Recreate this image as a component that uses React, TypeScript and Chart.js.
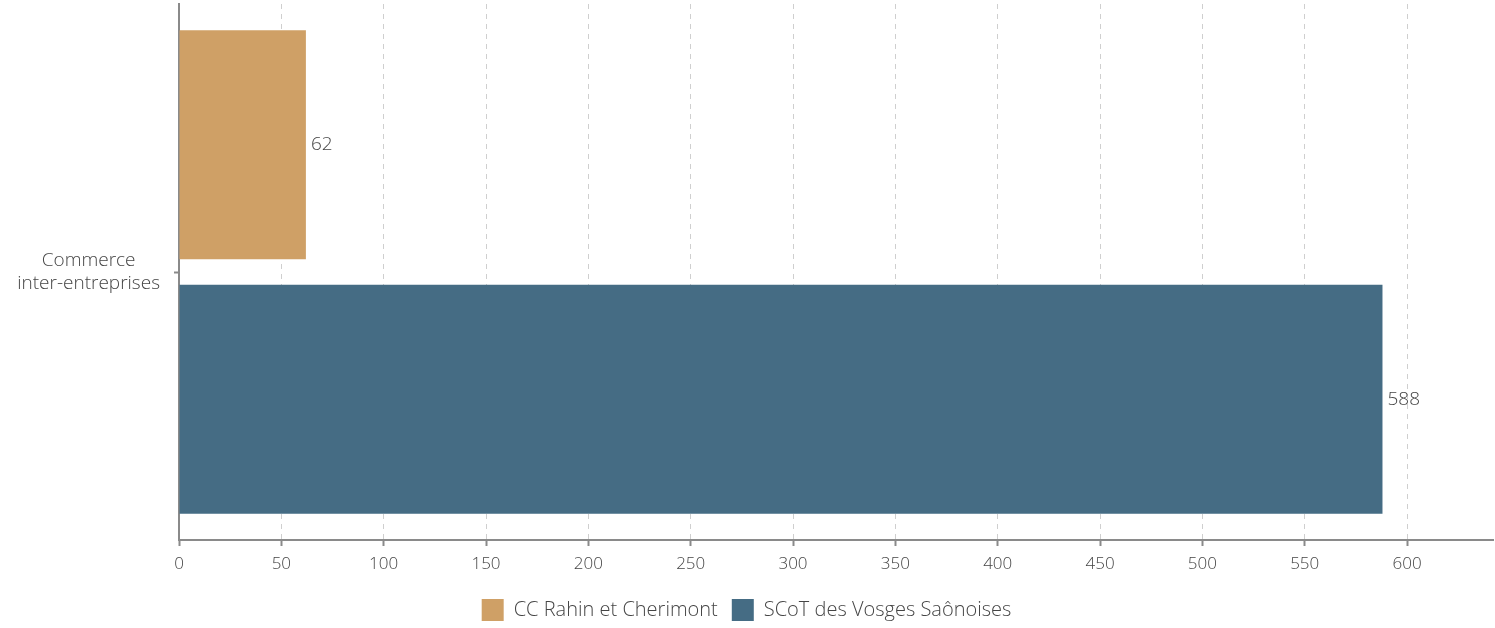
import React, { useEffect, useRef } from 'react';
import { Chart, registerables } from 'chart.js';

Chart.register(...registerables);

const categories = [['Commerce', 'inter-entreprises']];
const seriesNames = ['CC Rahin et Cherimont', 'SCoT des Vosges Saônoises'];
const ccRahinValues = [62];
const scotValues = [588];
const xMin = 0;
const xMax = 642;
const xStep = 50;

const FONT = "'Open Sans', sans-serif";
const TEXT = '#454545';
const AXIS = '#8a8a8a';
const COLORS = ['#CFA066', '#456C84'];

const valueLabels = {
  id: 'valueLabels',
  afterDatasetsDraw(chart: any) {
    const ctx = chart.ctx;
    ctx.save();
    ctx.font = `300 19px ${FONT}`;
    ctx.fillStyle = TEXT;
    ctx.textAlign = 'left';
    ctx.textBaseline = 'middle';
    chart.data.datasets.forEach((ds: any, i: number) => {
      const meta = chart.getDatasetMeta(i);
      meta.data.forEach((el: any, j: number) => {
        ctx.fillText(String(ds.data[j]), el.x + 5, el.y);
      });
    });
    ctx.restore();
  },
};

export default function App() {
  const ref = useRef<HTMLCanvasElement>(null);
  useEffect(() => {
    if (!ref.current) return;
    const chart = new Chart(ref.current, {
      type: 'bar',
      data: {
        labels: categories,
        datasets: [
          { label: seriesNames[0], data: ccRahinValues, backgroundColor: COLORS[0], borderWidth: 0 },
          { label: seriesNames[1], data: scotValues, backgroundColor: COLORS[1], borderWidth: 0 },
        ],
      },
      options: {
        indexAxis: 'y',
        responsive: false,
        animation: false,
        categoryPercentage: 0.95,
        barPercentage: 0.9,
        layout: { padding: { left: 0, right: 2, top: 4, bottom: -3 } },
        scales: {
          x: {
            min: xMin,
            max: xMax,
            afterFit: (s: any) => { s.height = 45; },
            ticks: {
              stepSize: xStep,
              includeBounds: false,
              color: TEXT,
              font: { family: FONT, size: 17, weight: '300' },
              padding: 8,
            },
            grid: {
              color: '#cfcfcf',
              lineWidth: 1,
              drawTicks: true,
              tickLength: 6,
              tickColor: AXIS,
              tickWidth: 2,
              tickBorderDash: [],
            },
            border: { display: true, color: AXIS, width: 2, dash: [5, 5] },
          },
          y: {
            afterFit: (s: any) => { s.width = 179; s.paddingTop = 0; s.paddingBottom = 0; },
            ticks: {
              color: TEXT,
              crossAlign: 'center',
              padding: 14,
              font: { family: FONT, size: 19, weight: '300' },
            },
            grid: {
              offset: false,
              drawOnChartArea: false,
              drawTicks: true,
              tickLength: 5,
              tickColor: AXIS,
              tickWidth: 2,
            },
            border: { display: true, color: AXIS, width: 2 },
          },
        },
        plugins: {
          tooltip: { enabled: false },
          legend: {
            position: 'bottom',
            labels: {
              boxWidth: 22,
              boxHeight: 22,
              padding: 14,
              color: TEXT,
              font: { family: FONT, size: 20, weight: '300' },
            },
          },
        },
      },
      plugins: [valueLabels],
    } as any);
    return () => chart.destroy();
  }, []);
  return (
    <div style={{ position: 'fixed', left: 0, top: 0, width: 1495, height: 628, background: '#fff' }}>
      <canvas ref={ref} width={1495} height={628} />
    </div>
  );
}
